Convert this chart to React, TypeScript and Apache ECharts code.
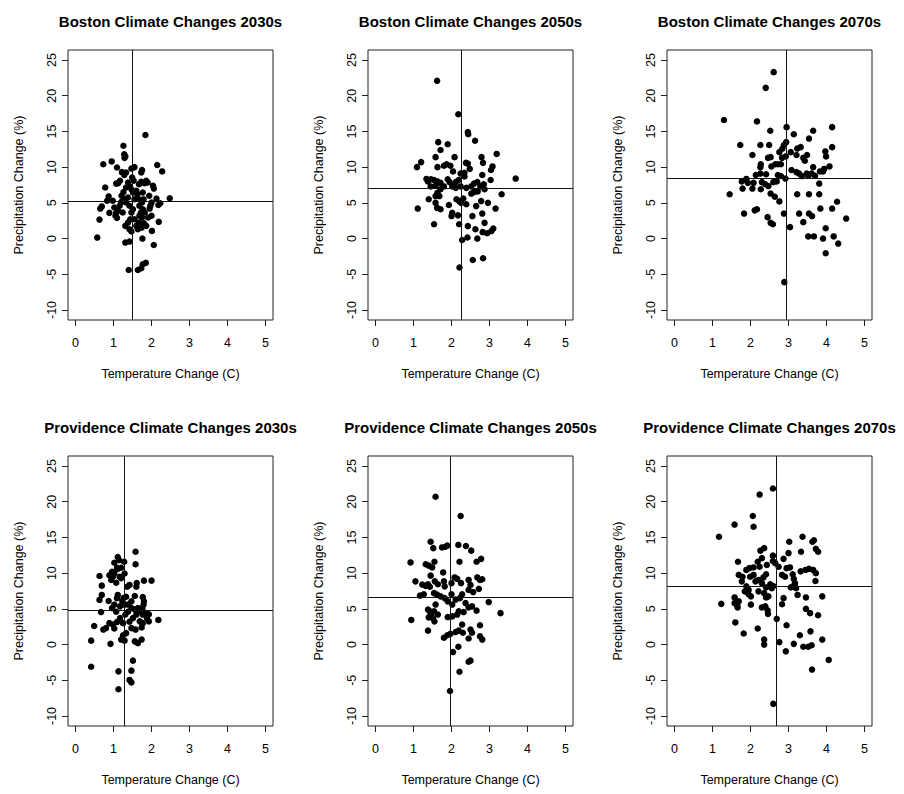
import React, { useEffect, useRef } from "react";
import * as echarts from "echarts";

const panelTitles = [
  "Boston Climate Changes 2030s",
  "Boston Climate Changes 2050s",
  "Boston Climate Changes 2070s",
  "Providence Climate Changes 2030s",
  "Providence Climate Changes 2050s",
  "Providence Climate Changes 2070s",
];
const xTicks = [0, 1, 2, 3, 4, 5];
const yTicks = [-10, -5, 0, 5, 10, 15, 20, 25];
const xName = "Temperature Change (C)";
const yName = "Precipitation Change (%)";

// mean lines (temperature, precipitation) per panel
const meanTemp = [1.5, 2.25, 2.95, 1.27, 1.96, 2.67];
const meanPrecip = [5.2, 7.0, 8.5, 4.75, 6.6, 8.1];

const boston2030s = [
  [0.57, 0.14], [0.63, 2.66], [0.65, 4.2], [0.69, 4.5], [0.73, 10.4], [0.78, 7.15], [0.83, 5.3], [0.87, 5.9],
  [0.89, 3.6], [0.95, 10.8], [0.98, 5.3], [1.09, 9.95], [1.02, 4.35], [1.07, 3.6], [1.09, 2.9], [1.12, 3.9],
  [1.05, 3.2], [1.07, 7.7], [1.12, 7.76], [1.17, 8.1], [1.22, 9.3], [1.28, 8.9], [1.33, 9.25], [1.26, 13.0],
  [1.28, 11.8], [1.31, 11.5], [1.29, 11.3], [1.21, 6.0], [1.26, 6.5], [1.33, 7.15], [1.38, 7.85], [1.41, 7.4],
  [1.29, 5.5], [1.33, 5.05], [1.38, 5.75], [1.42, 4.6], [1.31, 1.78], [1.38, 2.24], [1.42, 1.3], [1.44, 2.7],
  [1.47, 1.0], [1.31, -0.56], [1.42, -0.42], [1.4, -4.4], [1.47, 9.8], [1.55, 10.0], [1.49, 8.55], [1.53, 8.1],
  [1.47, 3.65], [1.51, 4.1], [1.55, 5.5], [1.55, 2.7], [1.6, 1.78], [1.64, 1.3], [1.67, 2.24], [1.6, 6.7],
  [1.63, 6.2], [1.67, 5.5], [1.68, 4.6], [1.72, 3.65], [1.68, 3.2], [1.73, 9.25], [1.75, 9.6], [1.67, 7.6],
  [1.73, 7.95], [1.82, 7.76], [1.86, 8.1], [1.9, 7.85], [1.77, 6.45], [1.79, 5.5], [1.75, 5.05], [1.77, 4.1],
  [1.82, 3.65], [1.75, 2.95], [1.8, 2.15], [1.74, 1.54], [1.76, 0.0], [1.64, -4.4], [1.73, -4.15], [1.77, -3.6],
  [1.85, -3.4], [1.84, 14.5], [1.94, 6.0], [1.97, 4.6], [1.95, 4.2], [2.0, 5.05], [2.04, 7.4], [2.06, 7.0],
  [2.01, 1.07], [2.06, -0.9], [2.15, 10.3], [2.28, 9.4], [2.13, 5.6], [2.18, 4.7], [2.23, 4.95], [2.19, 2.34],
  [2.48, 5.65], [1.91, 2.95], [1.86, 1.78], [2.0, 3.2], [1.51, 6.45], [1.47, 6.9], [1.2, 5.1], [1.16, 4.6],
  [1.24, 3.65],
];

const boston2050s = [
  [1.62, 22.08], [2.18, 17.4], [2.43, 14.9], [2.44, 14.6], [2.62, 13.7], [1.65, 13.5], [1.9, 13.2], [1.71, 12.4],
  [1.58, 11.4], [2.08, 11.4], [3.19, 11.85], [2.79, 11.4], [1.2, 10.7], [1.09, 10.0], [1.63, 10.0], [1.8, 10.2],
  [1.87, 10.4], [1.97, 10.2], [2.38, 10.6], [2.43, 10.5], [2.83, 10.6], [3.08, 10.1], [3.04, 9.6], [2.48, 9.75],
  [2.04, 9.4], [2.24, 9.1], [2.34, 9.2], [2.81, 8.9], [1.34, 8.35], [1.38, 8.0], [1.46, 8.3], [1.54, 8.2],
  [1.63, 8.0], [1.71, 7.8], [1.9, 8.3], [1.95, 7.9], [2.11, 7.9], [2.19, 8.2], [1.45, 7.3], [1.58, 7.4],
  [1.71, 6.9], [1.8, 7.3], [2.02, 7.3], [2.11, 7.1], [2.24, 7.3], [2.39, 7.1], [2.52, 7.3], [2.59, 7.7],
  [2.68, 7.9], [2.76, 7.3], [2.85, 7.6], [2.87, 6.9], [3.03, 8.2], [3.69, 8.4], [2.52, 6.3], [2.59, 6.5],
  [2.69, 6.6], [1.63, 6.4], [1.68, 5.95], [1.58, 5.95], [1.4, 5.5], [1.58, 5.0], [1.62, 4.3], [1.71, 4.1],
  [1.11, 4.2], [2.13, 5.5], [2.2, 5.25], [2.31, 5.6], [2.25, 5.0], [2.39, 4.8], [1.93, 4.7], [2.78, 5.25],
  [2.96, 5.0], [3.32, 6.2], [2.65, 4.55], [3.16, 4.2], [2.02, 3.6], [2.0, 3.15], [2.17, 3.25], [2.55, 3.15],
  [2.81, 3.5], [1.54, 2.0], [2.2, 2.0], [2.43, 1.75], [2.87, 2.2], [2.63, 1.3], [3.1, 1.4], [3.05, 1.05],
  [2.82, 0.9], [2.94, 0.75], [2.68, 0.0], [2.42, 0.15], [2.28, -0.2], [2.56, -3.0], [2.83, -2.75], [2.21, -4.05],
  [2.34, 8.7],
];

const boston2070s = [
  [2.61, 23.3], [2.4, 21.1], [1.3, 16.6], [2.17, 16.4], [2.52, 15.1], [2.95, 15.6], [3.14, 14.6], [3.65, 15.1],
  [4.15, 15.6], [3.54, 14.0], [1.73, 13.1], [2.26, 13.1], [2.49, 13.1], [2.94, 13.5], [2.88, 13.1], [2.84, 12.6],
  [3.32, 12.8], [3.23, 12.6], [4.15, 12.8], [3.97, 12.2], [2.76, 12.1], [3.06, 12.1], [2.05, 11.7], [3.21, 11.7],
  [3.49, 11.7], [2.46, 11.3], [2.53, 11.4], [2.83, 11.3], [3.39, 11.3], [3.99, 11.5], [2.93, 11.5], [3.43, 10.9],
  [2.27, 10.4], [2.55, 10.1], [2.65, 10.4], [2.72, 10.4], [2.8, 10.4], [2.26, 10.0], [3.08, 9.6], [3.65, 10.0],
  [4.08, 10.1], [3.21, 9.3], [3.28, 9.1], [3.48, 9.1], [3.52, 8.8], [3.61, 9.1], [3.7, 8.8], [3.83, 9.4],
  [3.91, 9.4], [3.94, 9.75], [2.14, 8.9], [2.26, 9.1], [2.41, 9.0], [2.72, 8.9], [2.8, 8.75], [2.92, 8.4],
  [3.35, 8.75], [1.89, 8.35], [1.77, 8.0], [1.93, 7.8], [2.08, 7.8], [2.3, 7.9], [2.39, 7.6], [2.6, 7.9],
  [2.69, 8.0], [3.81, 7.7], [1.79, 7.0], [2.05, 7.0], [2.27, 6.9], [2.47, 7.35], [1.45, 6.2], [2.53, 6.3],
  [2.64, 5.85], [2.76, 5.2], [3.23, 6.2], [3.54, 6.2], [3.81, 6.2], [2.11, 3.95], [2.17, 4.1], [3.84, 4.2],
  [4.15, 4.2], [4.28, 5.15], [1.83, 3.5], [2.88, 3.5], [3.28, 3.5], [3.54, 3.5], [3.62, 3.15], [2.45, 3.0],
  [2.53, 2.2], [2.59, 2.0], [4.52, 2.8], [3.39, 2.3], [3.04, 1.6], [3.98, 1.45], [3.52, 0.3], [3.67, 0.3],
  [4.19, 0.3], [3.91, 0.0], [4.31, -0.7], [3.98, -2.05], [2.89, -6.1],
];

const providence2030s = [
  [0.41, 0.55], [0.41, -3.1], [0.49, 2.6], [0.63, 9.6], [0.69, 8.25], [0.63, 6.25], [0.69, 6.95], [0.67, 4.55],
  [0.73, 2.1], [0.8, 2.3], [0.87, 6.1], [0.92, 0.1], [0.89, 9.7], [0.94, 9.05], [0.98, 9.5], [1.02, 9.95],
  [0.96, 10.2], [1.07, 8.65], [1.02, 11.45], [1.11, 12.25], [1.15, 11.8], [1.28, 11.6], [1.09, 10.75], [1.11, 10.6],
  [1.2, 10.75], [1.16, 9.5], [1.2, 9.3], [1.29, 9.95], [0.96, 5.1], [1.02, 5.6], [1.09, 6.5], [1.11, 6.95],
  [0.89, 3.0], [0.98, 2.8], [1.02, 2.25], [1.09, 3.15], [1.17, 5.35], [1.23, 6.05], [1.26, 6.5], [1.33, 6.7],
  [1.17, 3.7], [1.25, 3.0], [1.31, 4.2], [1.38, 4.6], [1.2, 0.7], [1.29, 0.55], [1.25, 1.3], [1.33, 1.6],
  [1.13, -3.75], [1.13, -6.25], [1.36, 8.1], [1.42, 8.35], [1.6, 8.1], [1.61, 8.6], [1.58, 13.0], [1.58, 11.25],
  [1.56, 6.8], [1.47, 6.05], [1.47, 5.1], [1.56, 4.9], [1.64, 5.1], [1.69, 4.65], [1.76, 5.1], [1.79, 5.6],
  [1.77, 6.65], [1.8, 6.05], [1.51, 3.7], [1.6, 4.2], [1.69, 3.25], [1.77, 4.2], [1.84, 4.4], [1.47, 2.3],
  [1.58, 2.1], [1.74, 2.4], [1.77, 3.0], [1.56, 0.45], [1.64, 0.2], [1.74, 0.7], [1.51, -2.25], [1.47, -3.65],
  [1.42, -4.95], [1.47, -5.3], [1.8, 8.95], [2.0, 8.95], [1.93, 3.25], [1.88, 3.7], [2.18, 3.45], [1.93, 4.25],
  [1.07, 4.6], [1.29, 5.6], [1.38, 5.6], [1.42, 3.2],
];

const providence2050s = [
  [1.58, 20.7], [2.24, 18.0], [1.45, 14.4], [1.52, 13.5], [1.75, 13.6], [1.84, 13.7], [1.89, 13.85], [2.18, 13.95],
  [2.38, 13.8], [2.52, 13.15], [0.92, 11.5], [1.32, 11.25], [1.4, 11.05], [1.55, 11.6], [1.49, 10.8], [2.21, 11.6],
  [2.66, 11.6], [2.78, 12.0], [1.45, 9.65], [1.78, 10.1], [1.05, 8.85], [1.23, 8.4], [1.32, 8.2], [1.38, 8.45],
  [1.43, 8.1], [1.56, 8.85], [1.64, 8.45], [1.8, 8.85], [1.82, 8.15], [2.0, 8.6], [2.08, 9.4], [2.15, 9.2],
  [2.25, 8.6], [2.45, 9.05], [2.5, 8.35], [2.68, 9.4], [2.75, 9.05], [2.81, 9.15], [2.72, 7.8], [1.17, 6.85],
  [1.27, 7.05], [1.54, 7.2], [1.62, 7.0], [1.71, 6.75], [1.82, 6.5], [1.9, 6.05], [2.0, 7.05], [2.02, 5.6],
  [2.11, 6.3], [2.22, 6.5], [2.28, 7.05], [2.45, 7.65], [2.57, 7.35], [2.37, 5.8], [2.45, 5.2], [2.54, 5.35],
  [2.66, 4.75], [2.98, 5.95], [1.38, 4.9], [1.45, 4.2], [1.51, 3.7], [1.55, 3.25], [1.64, 4.2], [1.58, 5.6],
  [1.54, 4.65], [1.4, 3.8], [1.43, 4.65], [0.94, 3.45], [1.38, 1.95], [1.9, 3.85], [2.02, 3.95], [2.15, 4.2],
  [2.19, 4.65], [2.32, 4.55], [3.29, 4.4], [1.8, 0.95], [1.89, 1.3], [1.97, 1.5], [2.11, 1.75], [2.19, 1.95],
  [2.28, 2.8], [2.3, 1.65], [2.5, 2.1], [2.54, 1.65], [2.45, 0.85], [2.75, 2.7], [2.75, 1.15], [2.81, 0.7],
  [2.04, -1.05], [2.18, -0.3], [2.45, -2.4], [2.5, -2.25], [2.21, -3.8], [1.96, -6.5],
];

const providence2070s = [
  [2.59, 21.85], [2.24, 21.0], [2.06, 18.0], [2.08, 16.5], [1.58, 16.8], [1.17, 15.1], [3.37, 15.1], [3.02, 14.4],
  [3.63, 14.4], [3.67, 14.6], [3.33, 13.0], [3.0, 12.8], [3.72, 13.4], [3.78, 13.0], [2.26, 13.15], [2.36, 13.5],
  [2.59, 12.45], [1.67, 11.6], [2.19, 11.6], [2.3, 12.1], [2.87, 12.0], [2.43, 11.15], [2.59, 11.7], [2.65, 11.4],
  [2.74, 10.9], [2.95, 10.7], [3.04, 10.8], [3.32, 10.25], [3.45, 10.45], [3.54, 10.6], [3.65, 10.45], [3.72, 10.0],
  [1.89, 10.45], [1.97, 10.7], [2.08, 10.8], [2.24, 10.9], [1.69, 9.75], [1.79, 9.5], [1.99, 9.5], [2.08, 9.75],
  [2.34, 9.4], [2.41, 9.85], [2.83, 9.75], [2.91, 9.5], [3.11, 9.85], [3.14, 9.2], [3.17, 8.6], [3.13, 8.2],
  [3.06, 8.0], [3.2, 7.9], [3.71, 8.9], [1.77, 8.85], [1.89, 8.15], [1.95, 7.65], [2.13, 8.85], [2.21, 9.05],
  [2.3, 8.6], [2.52, 8.45], [2.56, 7.9], [2.6, 8.2], [2.41, 8.0], [1.85, 7.45], [1.95, 7.05], [2.21, 7.45],
  [2.36, 7.2], [1.58, 6.6], [1.69, 6.05], [2.01, 6.75], [2.41, 6.6], [2.47, 6.75], [3.24, 6.95], [3.46, 6.6],
  [3.89, 6.75], [1.23, 5.7], [1.58, 5.8], [1.65, 5.5], [1.66, 5.2], [2.01, 5.6], [2.3, 5.2], [2.39, 5.35],
  [2.45, 4.8], [2.46, 4.3], [2.83, 5.65], [2.87, 6.5], [3.46, 5.0], [3.57, 4.4], [3.78, 4.1], [2.69, 3.6],
  [1.6, 3.1], [2.95, 2.7], [1.82, 1.55], [2.19, 2.25], [3.3, 1.3], [3.58, 1.85], [2.36, 0.7], [2.36, 0.0],
  [2.76, 0.35], [3.14, 0.1], [3.39, -0.3], [3.52, -0.3], [3.61, -0.1], [3.89, 0.7], [2.93, -0.95], [4.06, -2.15],
  [3.62, -3.5], [2.6, -8.3],
];

const panelData = [boston2030s, boston2050s, boston2070s, providence2030s, providence2050s, providence2070s];

const COL_LEFT = [68, 368, 667];
const ROW_TOP = [50, 456];
const PLOT_W = 205;
const PLOT_H = 270;
const FONT = '"Liberation Sans", Arial, sans-serif';

export default function App() {
  const ref = useRef<HTMLDivElement>(null);
  useEffect(() => {
    document.body.style.margin = "0";
    const chart = echarts.init(ref.current!, null, { renderer: "svg" });
    const grid: any[] = [];
    const xAxis: any[] = [];
    const yAxis: any[] = [];
    const series: any[] = [];
    const graphic: any[] = [];
    panelData.forEach((data, i) => {
      const col = i % 3;
      const row = Math.floor(i / 3);
      const left = COL_LEFT[col];
      const top = ROW_TOP[row];
      grid.push({
        left,
        top,
        width: PLOT_W,
        height: PLOT_H,
        show: true,
        borderColor: "#222",
        borderWidth: 1,
        backgroundColor: "transparent",
        containLabel: false,
        outerBoundsMode: "none",
      });
      xAxis.push({
        gridIndex: i,
        type: "value",
        position: "bottom",
        min: -0.2,
        max: 5.2,
        name: xName,
        nameLocation: "middle",
        nameGap: 47,
        nameTextStyle: { color: "#000", fontFamily: FONT, fontSize: 12.5 },
        axisLine: { show: false, onZero: false },
        axisTick: { show: true, inside: false, length: 6, customValues: xTicks, lineStyle: { color: "#222" } },
        axisLabel: { customValues: xTicks, margin: 16, color: "#000", fontFamily: FONT, fontSize: 12.5 },
        splitLine: { show: false },
      });
      yAxis.push({
        gridIndex: i,
        type: "value",
        position: "left",
        min: -11.4,
        max: 26.4,
        name: yName,
        nameLocation: "middle",
        nameGap: 43,
        nameRotate: 90,
        nameTextStyle: { color: "#000", fontFamily: FONT, fontSize: 12.5 },
        axisLine: { show: false, onZero: false },
        axisTick: { show: true, inside: false, length: 6, customValues: yTicks, lineStyle: { color: "#222" } },
        axisLabel: { customValues: yTicks, margin: 10, rotate: 90, color: "#000", fontFamily: FONT, fontSize: 12.5 },
        splitLine: { show: false },
      });
      series.push({
        type: "scatter",
        xAxisIndex: i,
        yAxisIndex: i,
        data,
        symbol: "circle",
        symbolSize: 6.5,
        itemStyle: { color: "#000", opacity: 1 },
        emphasis: { disabled: true },
        silent: true,
        markLine: {
          silent: true,
          symbol: ["none", "none"],
          label: { show: false },
          lineStyle: { color: "#111", width: 1, type: "solid", opacity: 1 },
          emphasis: { disabled: true },
          data: [{ xAxis: meanTemp[i] }, { yAxis: meanPrecip[i] }],
        },
      });
      graphic.push({
        type: "text",
        x: left + PLOT_W / 2,
        y: top - 29,
        style: {
          text: panelTitles[i],
          fill: "#000",
          fontFamily: FONT,
          fontWeight: "bold",
          fontSize: 15,
          align: "center",
          verticalAlign: "middle",
        },
      });
    });
    chart.setOption({
      animation: false,
      backgroundColor: "#fff",
      grid,
      xAxis,
      yAxis,
      series,
      graphic,
    });
    return () => chart.dispose();
  }, []);
  return <div ref={ref} style={{ width: 904, height: 794 }} />;
}
